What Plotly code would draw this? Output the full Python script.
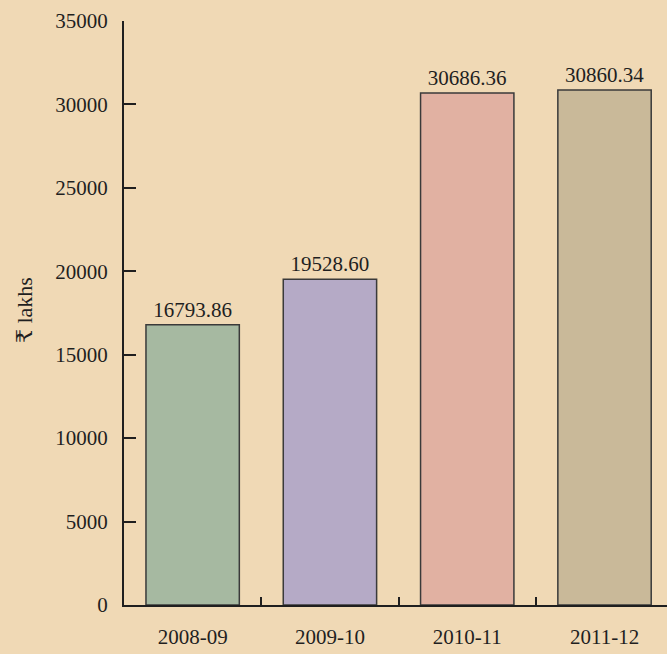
import plotly.graph_objects as go

# Expenditure by year, in lakhs of rupees
years = ["2008-09", "2009-10", "2010-11", "2011-12"]
amounts = [16793.86, 19528.60, 30686.36, 30860.34]
bar_colors = ["#a6b9a1", "#b5aac6", "#e1b1a2", "#c9b999"]
y_ticks = [0, 5000, 10000, 15000, 20000, 25000, 30000, 35000]

FONT = "Liberation Serif, Times New Roman, DejaVu Serif, serif"
INK = "#1f1f1f"
BG = "#f0d9b5"

fig = go.Figure(
    go.Bar(
        x=years,
        y=amounts,
        width=0.68,
        marker=dict(color=bar_colors, line=dict(color="#3a3a3a", width=1.5)),
        text=[f"{v:.2f}" for v in amounts],
        textposition="outside",
        cliponaxis=False,
        textfont=dict(family=FONT, size=21, color=INK),
    )
)

fig.update_layout(
    width=667,
    height=654,
    margin=dict(l=124, r=0, t=21, b=49),
    paper_bgcolor=BG,
    plot_bgcolor=BG,
    showlegend=False,
    font=dict(family=FONT, size=21, color=INK),
)

fig.update_xaxes(
    type="category",
    range=[-0.5, 3.455],
    showline=True,
    linecolor=INK,
    linewidth=2,
    ticks="inside",
    tickson="boundaries",
    ticklen=8,
    tickwidth=2,
    tickcolor=INK,
    ticklabelstandoff=12,
    showgrid=False,
    zeroline=False,
)

fig.update_yaxes(
    range=[0, 35000],
    tickvals=y_ticks,
    ticktext=[str(v) for v in y_ticks],
    showline=True,
    linecolor=INK,
    linewidth=2,
    ticks="inside",
    ticklen=12,
    tickwidth=2,
    tickcolor=INK,
    ticklabelstandoff=10,
    showgrid=False,
    zeroline=False,
)

fig.add_annotation(
    text="₹ lakhs",
    xref="paper",
    yref="paper",
    x=-100 / 543,
    y=(605 - 310) / 584,
    xanchor="center",
    yanchor="middle",
    textangle=-90,
    showarrow=False,
    font=dict(family=FONT, size=22, color=INK),
)

fig.write_html("out.html")
